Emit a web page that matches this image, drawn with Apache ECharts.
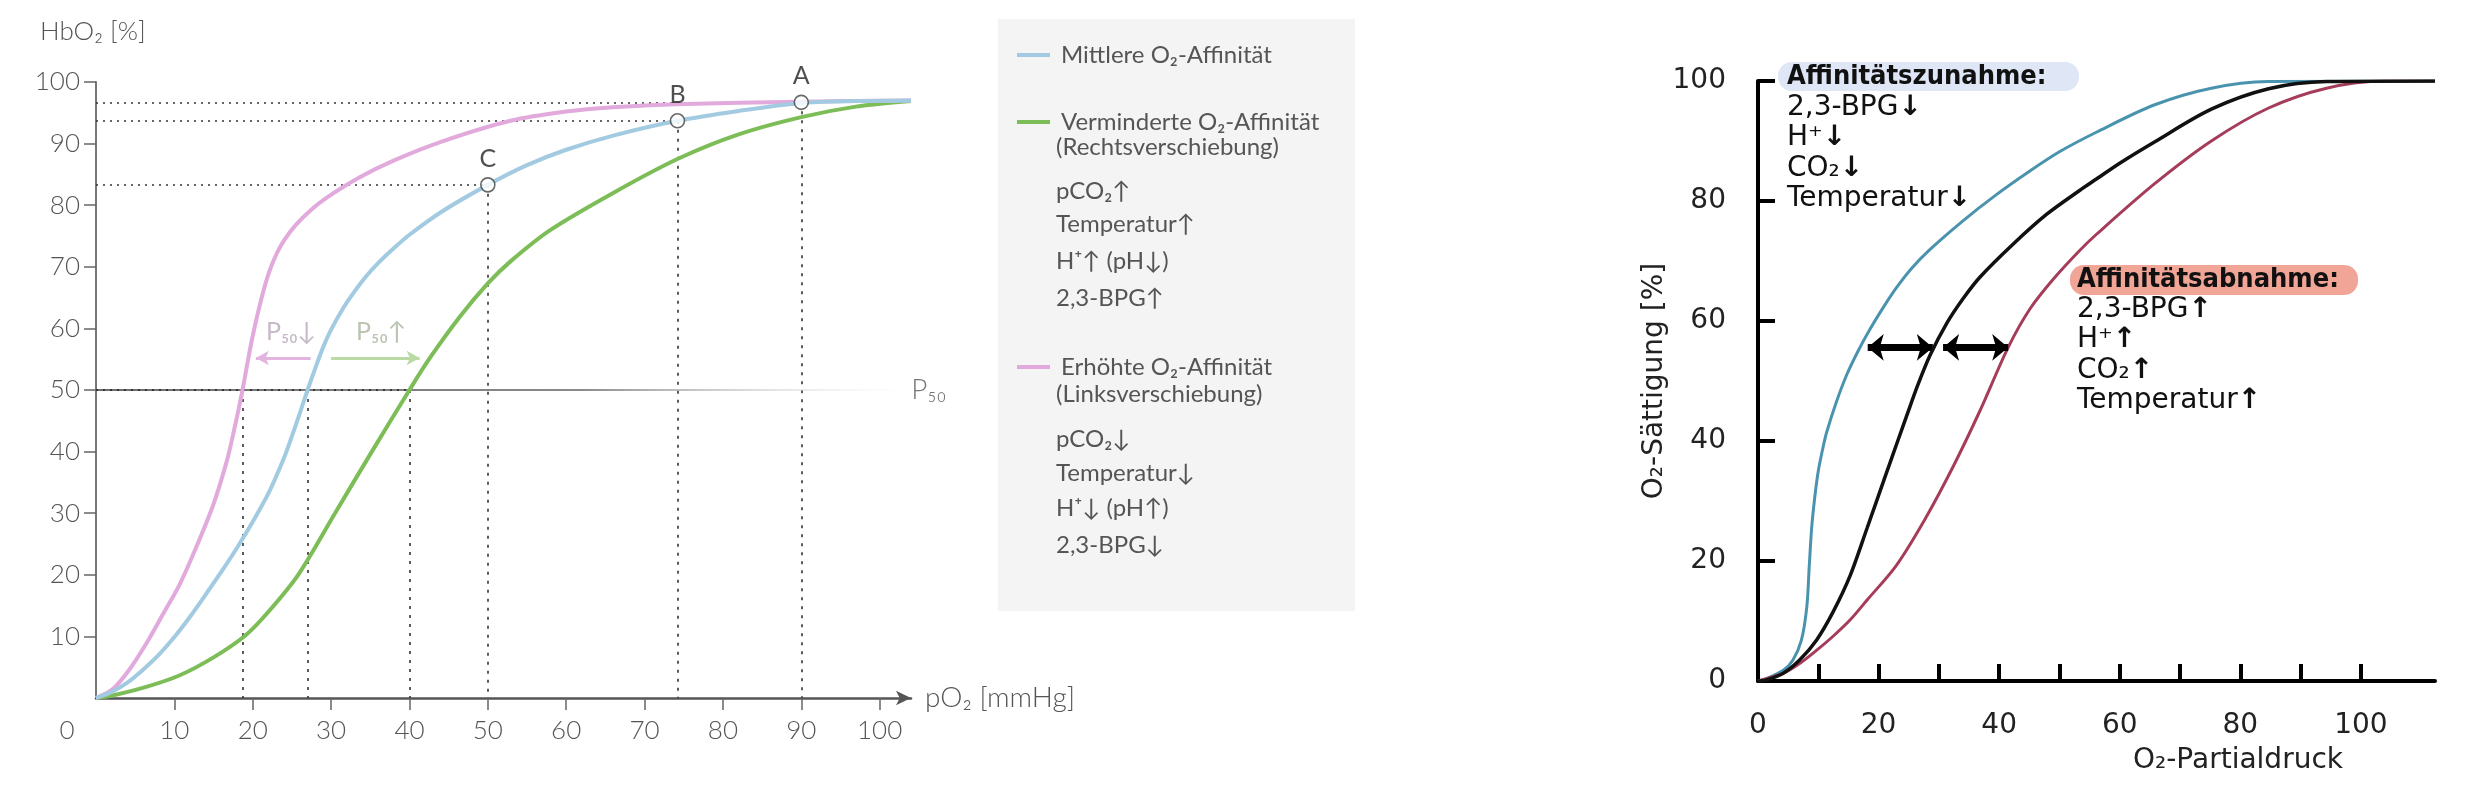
<!DOCTYPE html>
<html>
<head>
<meta charset="utf-8">
<script src="https://cdn.jsdelivr.net/npm/echarts@6/dist/echarts.min.js"></script>
<style>
html,body{margin:0;padding:0;background:#fff;}
#chart{width:2477px;height:795px;}
</style>
</head>
<body>
<div id="chart"></div>
<script>
// ---------- LEFT CHART DATA ----------
const leftXTicks = [10, 20, 30, 40, 50, 60, 70, 80, 90, 100];
const leftXLabels = [0, 10, 20, 30, 40, 50, 60, 70, 80, 90, 100];
const leftYTicks = [10, 20, 30, 40, 50, 60, 70, 80, 90, 100];

const curveMid = [[0,0],[2,1],[4,2.5],[6,4.6],[8,7],[10,9.9],[12,13.2],[14,16.8],[16,20.5],[18,24.4],[20,28.6],[22,33.2],[24,39],[25,42.5],[26,46.2],[27,50],[28,53.6],[29,57],[30,59.8],[31.5,63.2],[33,66],[34.5,68.5],[36,70.6],[38,73],[40,75.2],[44.3,79.1],[50,83.3],[55,86.5],[60,89],[66,91.3],[74.2,93.7],[82,95.3],[90,96.6],[97,96.9],[104,97]];
const curveRight = [[0,0],[2.1,0.4],[6.4,1.8],[10.7,3.7],[15,6.6],[19.1,10.2],[22,14],[25.8,20],[30.5,30],[35.2,40],[40,50],[42.5,55],[46.5,62],[50,67.3],[53,71],[58,76],[66,82],[74.2,87.5],[82,91.5],[90,94.3],[97,96],[104,96.9]];
const curveLeft = [[0,0],[2.1,1.4],[4.2,4.5],[6.4,8.8],[8.5,13.5],[10.7,18.5],[12.8,24.5],[15,31.5],[16.7,38.5],[17.5,42.8],[18.2,46.9],[18.7,50],[19.3,54.2],[20,58.8],[21,64.3],[22,68.8],[23,72],[24,74.3],[25.5,76.8],[27.5,79.3],[29.4,81.2],[33.6,84.5],[37.9,87.2],[44.3,90.4],[52.9,93.7],[60,95.2],[66,95.9],[74,96.4],[90,96.8],[104,97]];

const pointNames = ['A', 'B', 'C'];
const pointX = [90, 74.2, 50];
const pointY = [96.7, 93.7, 83.3];
const p50Value = 50;
const p50X = [18.7, 27, 40];           // links, mittel, rechts
const p50ArrowY = 55.2;
const p50ArrowLeft = [27.4, 20.4];      // from, to
const p50ArrowRight = [30.0, 41.3];     // from, to
const p50TextX = [24.9, 36.4];
const p50TextY = 59.5;
const p50Texts = ['P₅₀↓', 'P₅₀↑'];

const legendNames = ['Mittlere O₂-Affinität', 'Verminderte O₂-Affinität', 'Erhöhte O₂-Affinität'];
const legendNotesRight = ['(Rechtsverschiebung)', 'pCO₂↑', 'Temperatur↑', 'H⁺↑ (pH↓)', '2,3-BPG↑'];
const legendNotesLeft = ['(Linksverschiebung)', 'pCO₂↓', 'Temperatur↓', 'H⁺↓ (pH↑)', '2,3-BPG↓'];

// ---------- RIGHT CHART DATA ----------
const rightXTicks = [0, 10, 20, 30, 40, 50, 60, 70, 80, 90, 100];
const rightXLabels = [0, 20, 40, 60, 80, 100];
const rightYLabels = [0, 20, 40, 60, 80, 100];

const curveHigh = [[0,0],[1.4,0.4],[4.2,1.8],[5.8,3.5],[7.2,6.8],[8.1,12.4],[8.5,19.1],[8.9,25.5],[9.4,30.5],[10,35],[10.8,39],[11.4,41.5],[13,46.5],[14.7,51],[16.5,54.8],[18.5,58.5],[21,62.6],[23,65.6],[25.5,68.8],[28.5,71.9],[34,76.7],[39.6,81.1],[45.1,85],[50,88.2],[56.2,91.5],[65.7,96],[75.2,98.8],[84.7,99.9],[112.3,100]];
const curveNormal = [[0,0],[1.4,0.2],[4.2,1.3],[6.9,3.5],[9.7,6.8],[12.5,11.6],[15.3,17.6],[18.1,25.5],[21,33.8],[23,39.5],[24.7,44.3],[26.5,49.3],[28.5,54.2],[31.3,59.6],[34,63.7],[36.8,67.3],[42.3,72.8],[47.9,77.8],[53.4,81.8],[56.2,83.7],[60,86.3],[65.7,89.8],[75.2,95.3],[84.7,98.7],[94.3,99.9],[112.3,100]];
const curveLow = [[0,0],[4.2,1.3],[6.9,2.9],[9.7,5.1],[12.5,7.5],[15.3,10.2],[18.1,13.5],[22.9,19.2],[27.6,26.8],[32.4,35.8],[36.8,45],[41.5,55.6],[45.1,62],[49,67],[53.4,71.8],[56.2,74.5],[65.7,82.8],[75.2,90],[84.7,95.5],[94.3,98.8],[103.8,100],[112.3,100]];

const shiftArrowY = 55.6;
const shiftArrowLeft = [18.2, 29.0];
const shiftArrowRight = [30.7, 41.5];

const incTitle = 'Affinitätszunahme:';
const incItems = ['2,3-BPG', 'H⁺', 'CO₂', 'Temperatur'];
const incArrow = '↓';
const decTitle = 'Affinitätsabnahme:';
const decItems = ['2,3-BPG', 'H⁺', 'CO₂', 'Temperatur'];
const decArrow = '↑';

// ---------- STYLE ----------
const LF = 'Lato, "Noto Sans", sans-serif';
const RF = '"DejaVu Sans", sans-serif';
const RFC = '"DejaVu Sans Condensed", "DejaVu Sans", sans-serif';
const colMid = '#a2cbe1', colRight = '#7dbd57', colLeft = '#e1a9dc';
const leftText = '#555';

const chart = echarts.init(document.getElementById('chart'), null, {renderer: 'canvas'});

const guideSeries = [];
guideSeries.push({
  type: 'lines', coordinateSystem: 'cartesian2d', xAxisIndex: 0, yAxisIndex: 0,
  silent: true, z: 1,
  lineStyle: {color: '#333', width: 1.6, type: [2, 5], opacity: 1},
  data: pointX.map((x, i) => ({coords: [[0, pointY[i]], [x, pointY[i]]]}))
});
guideSeries.push({
  type: 'lines', coordinateSystem: 'cartesian2d', xAxisIndex: 0, yAxisIndex: 0,
  silent: true, z: 1,
  lineStyle: {color: '#333', width: 1.6, type: [3, 6], opacity: 1},
  data: pointX.map((x, i) => ({coords: [[x, pointY[i]], [x, 0]]}))
    .concat(p50X.map(x => ({coords: [[x, p50Value], [x, 0]]})))
});
guideSeries.push({
  type: 'lines', coordinateSystem: 'cartesian2d', xAxisIndex: 0, yAxisIndex: 0,
  silent: true, z: 3,
  lineStyle: {color: '#222', width: 1.6, type: [2, 5], opacity: 1},
  data: [{coords: [[0, p50Value], [p50X[2], p50Value]]}]
});

const legendBlockTop = [51, 118, 363];
const notesRightY = [147, 191, 224.5, 261, 298];
const notesLeftY = [394, 439, 473.5, 508, 545];

const graphics = [
  {type: 'rect', shape: {x: 998, y: 19, width: 357, height: 592}, style: {fill: '#f4f4f4'}, z: -10, silent: true},
  {type: 'text', x: 40, y: 32, style: {text: 'HbO₂ [%]', font: '300 26px ' + LF, fill: leftText, textVerticalAlign: 'middle'}}
];
legendNotesRight.forEach((t, i) => graphics.push({type: 'text', x: 1056, y: notesRightY[i], style: {text: t, font: '24px ' + LF, fill: leftText, textVerticalAlign: 'middle'}}));
legendNotesLeft.forEach((t, i) => graphics.push({type: 'text', x: 1056, y: notesLeftY[i], style: {text: t, font: '24px ' + LF, fill: leftText, textVerticalAlign: 'middle'}}));

// right chart annotations
const richArrow = {a: {font: 'bold 28px ' + RF, fill: '#111'}};
graphics.push({type: 'rect', shape: {x: 1778, y: 62, width: 301, height: 29, r: 14}, style: {fill: '#dfe7f7'}, z: 1});
graphics.push({type: 'text', x: 1787, y: 77, z: 2, style: {text: incTitle, font: 'bold 27px ' + RFC, fill: '#111', textVerticalAlign: 'middle'}});
const incY = [108, 138, 169, 199];
incItems.forEach((t, i) => graphics.push({type: 'text', x: 1787, y: incY[i], z: 2, style: {text: t + '{a|' + incArrow + '}', font: '28px ' + RF, fill: '#111', textVerticalAlign: 'middle', rich: richArrow}}));
graphics.push({type: 'rect', shape: {x: 2070, y: 265, width: 288, height: 30, r: 14}, style: {fill: '#f0a597'}, z: 1});
graphics.push({type: 'text', x: 2077, y: 280, z: 2, style: {text: decTitle, font: 'bold 27px ' + RFC, fill: '#111', textVerticalAlign: 'middle'}});
const decY = [310, 340, 371, 401];
decItems.forEach((t, i) => graphics.push({type: 'text', x: 2077, y: decY[i], z: 2, style: {text: t + '{a|' + decArrow + '}', font: '28px ' + RF, fill: '#111', textVerticalAlign: 'middle', rich: richArrow}}));

const legendCommon = {
  orient: 'vertical', left: 1012, itemWidth: 33, itemHeight: 4, icon: 'rect',
  selectedMode: false,
  textStyle: {fontFamily: LF, fontSize: 24, color: leftText, padding: [0, 0, 0, 6]}
};

const option = {
  animation: false,
  backgroundColor: '#ffffff',
  grid: [
    {left: 96, top: 82, width: 815, height: 616},
    {left: 1758, top: 81, width: 677, height: 600}
  ],
  legend: [
    Object.assign({}, legendCommon, {top: legendBlockTop[0] - 13, data: [legendNames[0]]}),
    Object.assign({}, legendCommon, {top: legendBlockTop[1] - 13, data: [legendNames[1]]}),
    Object.assign({}, legendCommon, {top: legendBlockTop[2] - 13, data: [legendNames[2]]})
  ],
  xAxis: [
    {
      type: 'value', gridIndex: 0, min: 0, max: 104,
      splitLine: {show: false},
      axisLine: {show: true, lineStyle: {color: '#555', width: 2.5}, symbol: ['none', 'arrow'], symbolSize: [11, 15]},
      axisTick: {show: true, customValues: leftXTicks, length: 12, lineStyle: {color: '#666', width: 1.5}},
      axisLabel: {
        customValues: leftXLabels, margin: 20, fontFamily: LF, fontSize: 26, fontWeight: 300, color: leftText,
        formatter: v => v === 0 ? '{z|0}' : String(v),
        rich: {z: {fontFamily: LF, fontSize: 26, fontWeight: 300, color: leftText, padding: [0, 58, 0, 0]}}
      },
      name: 'pO₂ [mmHg]', nameLocation: 'end', nameGap: 14,
      nameTextStyle: {fontFamily: LF, fontSize: 28, fontWeight: 300, color: leftText, verticalAlign: 'middle'}
    },
    {
      type: 'value', gridIndex: 1, min: 0, max: 112.3, offset: 22,
      splitLine: {show: false},
      axisLine: {show: true, lineStyle: {color: '#000', width: 4}},
      axisTick: {show: true, inside: true, customValues: rightXTicks, length: 17, lineStyle: {color: '#000', width: 4}},
      axisLabel: {customValues: rightXLabels, margin: 9, fontFamily: RF, fontSize: 28, color: '#222'},
      name: 'O₂-Partialdruck', nameLocation: 'middle', nameGap: 44,
      nameTextStyle: {fontFamily: RF, fontSize: 28, color: '#222', padding: [0, 0, 0, 283]}
    }
  ],
  yAxis: [
    {
      type: 'value', gridIndex: 0, min: 0, max: 100,
      splitLine: {show: false},
      axisLine: {show: true, lineStyle: {color: '#777', width: 2}},
      axisTick: {show: true, customValues: leftYTicks, length: 12, lineStyle: {color: '#666', width: 1.5}},
      axisLabel: {customValues: leftYTicks, margin: 16, fontFamily: LF, fontSize: 26, fontWeight: 300, color: leftText}
    },
    {
      type: 'value', gridIndex: 1, min: 0, max: 100, interval: 20, offset: 23,
      splitLine: {show: false},
      axisLine: {show: true, lineStyle: {color: '#000', width: 4}},
      axisTick: {show: true, inside: true, length: 17, lineStyle: {color: '#000', width: 4}},
      axisLabel: {customValues: rightYLabels, margin: 9, fontFamily: RF, fontSize: 28, color: '#222'},
      name: 'O₂-Sättigung [%]', nameLocation: 'middle', nameGap: 64,
      nameTextStyle: {fontFamily: RF, fontSize: 28, color: '#222'}
    }
  ],
  graphic: graphics,
  series: [
    {
      type: 'line', xAxisIndex: 0, yAxisIndex: 0, silent: true, z: 2,
      data: [[0, p50Value], [103, p50Value]], symbol: 'none',
      lineStyle: {width: 2.2, color: new echarts.graphic.LinearGradient(0, 0, 1, 0, [
        {offset: 0, color: '#6d6d6d'}, {offset: 0.6, color: '#8a8a8a'}, {offset: 1, color: 'rgba(220,220,220,0)'}])},
      endLabel: {show: true, formatter: 'P₅₀', distance: 8, fontFamily: LF, fontSize: 28, fontWeight: 300, color: '#777'}
    },
    ...guideSeries,
    {
      name: legendNames[1], type: 'line', xAxisIndex: 0, yAxisIndex: 0, data: curveRight,
      smooth: 0.3, symbol: 'none', z: 4, color: colRight,
      lineStyle: {width: 4, color: colRight},
      markLine: {
        silent: true, symbol: ['none', 'arrow'], symbolSize: [11, 13], label: {show: false},
        lineStyle: {color: '#b9dba3', width: 3, type: 'solid'},
        data: [[{coord: [p50ArrowRight[0], p50ArrowY]}, {coord: [p50ArrowRight[1], p50ArrowY]}]]
      }
    },
    {
      name: legendNames[0], type: 'line', xAxisIndex: 0, yAxisIndex: 0, data: curveMid,
      smooth: 0.3, symbol: 'none', z: 5, color: colMid,
      lineStyle: {width: 4, color: colMid}
    },
    {
      name: legendNames[2], type: 'line', xAxisIndex: 0, yAxisIndex: 0, data: curveLeft,
      smooth: 0.3, symbol: 'none', z: 4, color: colLeft,
      lineStyle: {width: 4, color: colLeft},
      markLine: {
        silent: true, symbol: ['none', 'arrow'], symbolSize: [11, 13], label: {show: false},
        lineStyle: {color: '#e4b4e0', width: 3, type: 'solid'},
        data: [[{coord: [p50ArrowLeft[0], p50ArrowY]}, {coord: [p50ArrowLeft[1], p50ArrowY]}]]
      }
    },
    {
      type: 'scatter', xAxisIndex: 0, yAxisIndex: 0, silent: true, z: 8,
      symbol: 'circle', symbolSize: 14,
      itemStyle: {color: '#fff', borderColor: '#444', borderWidth: 1.6},
      label: {show: true, position: 'top', distance: 6, fontFamily: LF, fontSize: 25, color: '#222',
        formatter: p => pointNames[p.dataIndex]},
      data: pointX.map((x, i) => [x, pointY[i]])
    },
    {
      type: 'scatter', xAxisIndex: 0, yAxisIndex: 0, silent: true, z: 8,
      symbol: 'circle', symbolSize: 2, itemStyle: {color: 'rgba(255,255,255,0)'},
      label: {show: true, position: 'inside', fontFamily: LF, fontSize: 25,
        formatter: p => p50Texts[p.dataIndex], color: '#aaa'},
      data: [
        {value: [p50TextX[0], p50TextY], label: {color: '#b8a9ba'}},
        {value: [p50TextX[1], p50TextY], label: {color: '#a9b5a0'}}
      ]
    },
    // right chart
    {
      type: 'line', xAxisIndex: 1, yAxisIndex: 1, data: curveHigh,
      smooth: 0.3, symbol: 'none', z: 4,
      lineStyle: {width: 3, color: '#4a93ae'}
    },
    {
      type: 'line', xAxisIndex: 1, yAxisIndex: 1, data: curveLow,
      smooth: 0.3, symbol: 'none', z: 4,
      lineStyle: {width: 3, color: '#a53c59'}
    },
    {
      type: 'line', xAxisIndex: 1, yAxisIndex: 1, data: curveNormal,
      smooth: 0.3, symbol: 'none', z: 5,
      lineStyle: {width: 3.5, color: '#111'},
      markLine: {
        silent: true, symbol: ['arrow', 'arrow'], symbolSize: [20, 16], label: {show: false},
        lineStyle: {color: '#000', width: 7, type: 'solid'},
        data: [
          [{coord: [shiftArrowLeft[0], shiftArrowY]}, {coord: [shiftArrowLeft[1], shiftArrowY]}],
          [{coord: [shiftArrowRight[0], shiftArrowY]}, {coord: [shiftArrowRight[1], shiftArrowY]}]
        ]
      }
    }
  ]
};
chart.setOption(option);
</script>
</body>
</html>
